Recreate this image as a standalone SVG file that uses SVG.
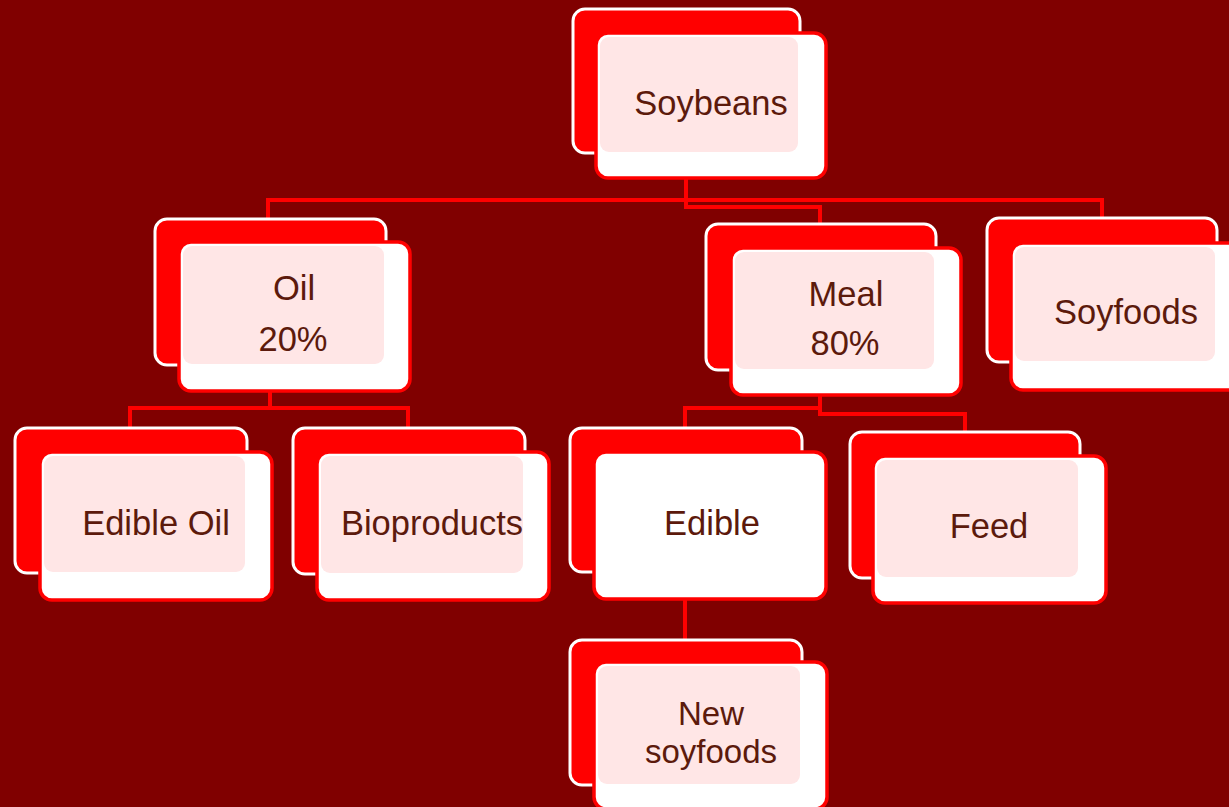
<svg xmlns="http://www.w3.org/2000/svg" width="1229" height="807" viewBox="0 0 1229 807">
<style>
.back{fill:#ff0000;stroke:#ffffff;stroke-width:3}
.front{fill:#ffffff;stroke:#ff0000;stroke-width:3.5}
.tint{fill:#ffe6e6}
.lbl{font-family:"Liberation Sans",Arial,sans-serif;font-size:34.5px;fill:#5c1a0c;text-anchor:middle}
.sm{font-size:33px}
.conn{fill:none;stroke:#ff0000;stroke-width:4}
</style>
<rect width="1229" height="807" fill="#800000"/>
<g id="connectors">
<path class="conn" d="M686,178 V200 M268,222 V200 H1102 V220"/>
<path class="conn" d="M686,200 V207 H820 V226"/>
<path class="conn" d="M270,391 V408 M130,432 V408 H408 V432"/>
<path class="conn" d="M820,395 V408 H685 V432 M820,408 V414 H965 V434"/>
<path class="conn" d="M685,599 V642"/>
</g>
<g id="soybeans">
<rect class="back" x="573" y="9" width="227" height="144" rx="12"/>
<rect class="front" x="596" y="33" width="230" height="145" rx="12"/>
<rect class="tint" x="600" y="37" width="198" height="115" rx="9"/>
<text class="lbl" x="711" y="115">Soybeans</text>
</g>
<g id="oil">
<rect class="back" x="155" y="219" width="231" height="146" rx="12"/>
<rect class="front" x="179" y="242" width="231" height="149" rx="12"/>
<rect class="tint" x="183" y="246" width="201" height="118" rx="9"/>
<text class="lbl" x="294" y="300">Oil</text>
<text class="lbl" x="293" y="351">20%</text>
</g>
<g id="meal">
<rect class="back" x="706" y="224" width="230" height="146" rx="12"/>
<rect class="front" x="731" y="248" width="230" height="147" rx="12"/>
<rect class="tint" x="735" y="252" width="199" height="117" rx="9"/>
<text class="lbl" x="846" y="306">Meal</text>
<text class="lbl" x="845" y="355">80%</text>
</g>
<g id="soyfoods">
<rect class="back" x="987" y="218" width="230" height="144" rx="12"/>
<rect class="front" x="1011" y="243" width="232" height="147" rx="12"/>
<rect class="tint" x="1015" y="247" width="200" height="114" rx="9"/>
<text class="lbl" x="1126" y="324">Soyfoods</text>
</g>
<g id="edible-oil">
<rect class="back" x="15" y="428" width="232" height="145" rx="12"/>
<rect class="front" x="40" y="452" width="232" height="148" rx="12"/>
<rect class="tint" x="44" y="456" width="201" height="116" rx="9"/>
<text class="lbl" x="156" y="535">Edible Oil</text>
</g>
<g id="bioproducts">
<rect class="back" x="293" y="428" width="232" height="146" rx="12"/>
<rect class="front" x="317" y="452" width="232" height="148" rx="12"/>
<rect class="tint" x="321" y="456" width="202" height="117" rx="9"/>
<text class="lbl" x="432" y="535">Bioproducts</text>
</g>
<g id="edible">
<rect class="back" x="570" y="428" width="232" height="144" rx="12"/>
<rect class="front" x="594" y="452" width="232" height="147" rx="12"/>
<text class="lbl" x="712" y="535">Edible</text>
</g>
<g id="feed">
<rect class="back" x="850" y="432" width="230" height="146" rx="12"/>
<rect class="front" x="873" y="456" width="233" height="147" rx="12"/>
<rect class="tint" x="877" y="460" width="201" height="117" rx="9"/>
<text class="lbl" x="989" y="538">Feed</text>
</g>
<g id="new-soyfoods">
<rect class="back" x="570" y="640" width="232" height="145" rx="12"/>
<rect class="front" x="594" y="662" width="233" height="147" rx="12"/>
<rect class="tint" x="598" y="666" width="202" height="118" rx="9"/>
<text class="lbl sm" x="711" y="725">New</text>
<text class="lbl sm" x="711" y="763">soyfoods</text>
</g>
</svg>
